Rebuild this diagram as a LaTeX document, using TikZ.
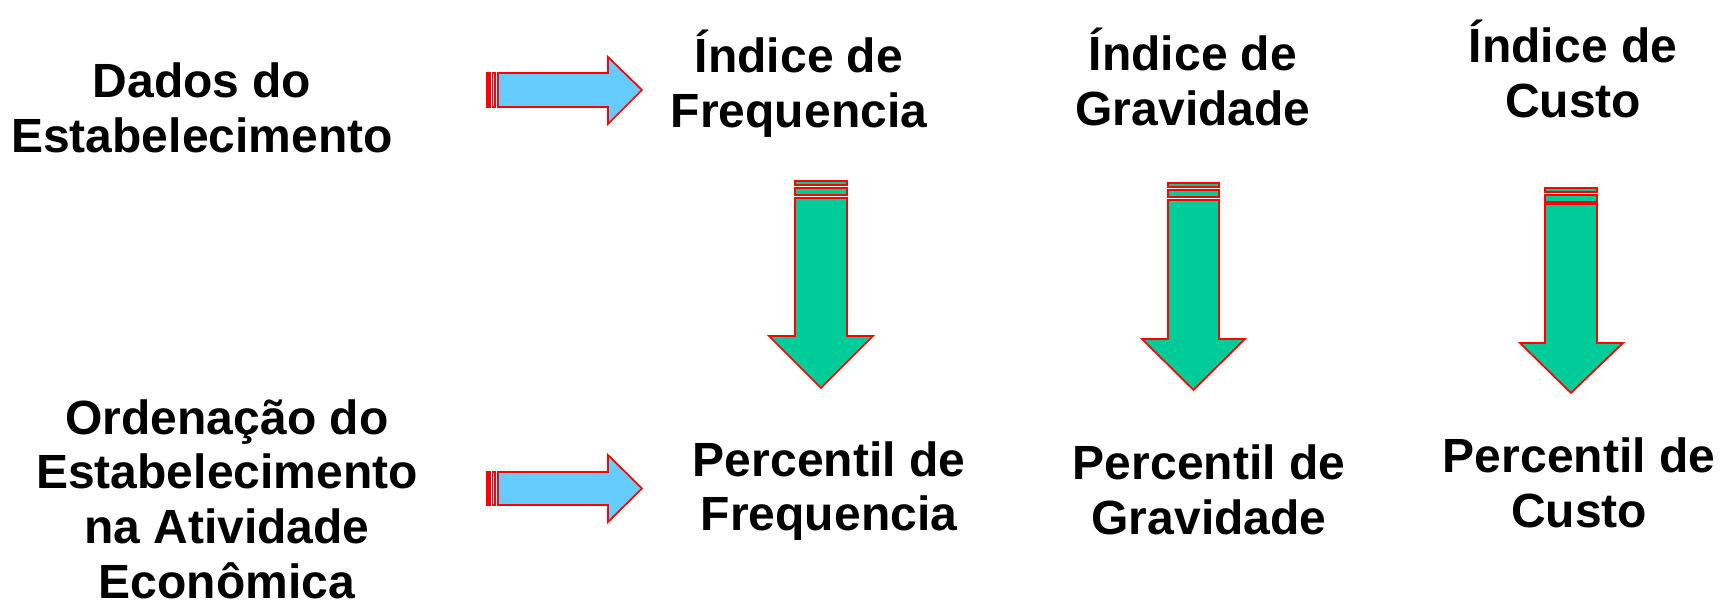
\documentclass[tikz,border=0pt]{standalone}
\usepackage{fontspec}
\setmainfont{Liberation Sans}
\usepackage{tikz}

\definecolor{arrowblue}{RGB}{102,204,255}
\definecolor{arrowgreen}{RGB}{0,204,153}

\begin{document}
\begin{tikzpicture}[x=0.75pt,y=0.75pt,yscale=-1,xscale=1,
    blockR/.style={draw=red, fill=arrowblue, line width=1.3pt, line join=miter},
    blockD/.style={draw=red, fill=arrowgreen, line width=1.3pt, line join=miter},
    txt/.style={align=center, inner sep=0.75pt, font=\fontsize{36pt}{41pt}\selectfont\bfseries}]
    \path[use as bounding box] (0,0) rectangle (1728,605);

    %Shape: Right Arrow [top]
    \draw [draw=red, fill=red, line width=1pt]  (487,73) rectangle (490,107) ;
    \draw [blockR]  (492.5,73) rectangle (495,107) ;
    \draw [blockR]  (498,73) -- (608,73) -- (608,57) -- (642,90) -- (608,124) -- (608,107) -- (498,107) -- cycle ;
    %Shape: Right Arrow [bottom]
    \draw [draw=red, fill=red, line width=1pt]  (487,472) rectangle (490,505) ;
    \draw [blockR]  (492.5,472) rectangle (495,505) ;
    \draw [blockR]  (498,472) -- (608,472) -- (608,455) -- (642,488.5) -- (608,522) -- (608,505) -- (498,505) -- cycle ;

    %Shape: Down Arrow [frequencia]
    \draw [blockD]  (795,181) rectangle (847,185) ;
    \draw [blockD]  (795,188) rectangle (847,195) ;
    \draw [blockD]  (795,198) -- (847,198) -- (847,336) -- (873,336) -- (821,388) -- (769,336) -- (795,336) -- cycle ;
    %Shape: Down Arrow [gravidade]
    \draw [blockD]  (1168,183) rectangle (1219,187) ;
    \draw [blockD]  (1168,190) rectangle (1219,197) ;
    \draw [blockD]  (1168,200) -- (1219,200) -- (1219,339) -- (1245,339) -- (1193.5,390) -- (1142,339) -- (1168,339) -- cycle ;
    %Shape: Down Arrow [custo]
    \draw [blockD]  (1545,188) rectangle (1597,192) ;
    \draw [blockD]  (1545,195) rectangle (1597,202) ;
    \draw [blockD]  (1545,204) -- (1597,204) -- (1597,343) -- (1623,343) -- (1571,393) -- (1520,343) -- (1545,343) -- cycle ;

    % Text Node
    \draw (202,108) node (dados) [txt] {Dados do\\Estabelecimento};
    % Text Node
    \draw (227,499) node (ordenacao) [txt] {Ordenação do\\Estabelecimento\\na Atividade\\Econômica};
    % Text Node
    \draw (799,84) node (indfreq) [txt] {Índice de\\Frequencia};
    % Text Node
    \draw (1193,77) node (indgrav) [txt] {Índice de\\Gravidade};
    % Text Node
    \draw (1573,69) node (indcusto) [txt] {Índice de\\Custo};
    % Text Node
    \draw (829,491) node (percfreq) [txt] {Percentil de\\Frequencia};
    % Text Node
    \draw (1209,490) node (percgrav) [txt] {Percentil de\\Gravidade};
    % Text Node
    \draw (1579,483) node (perccusto) [txt] {Percentil de\\Custo};
\end{tikzpicture}
\end{document}
